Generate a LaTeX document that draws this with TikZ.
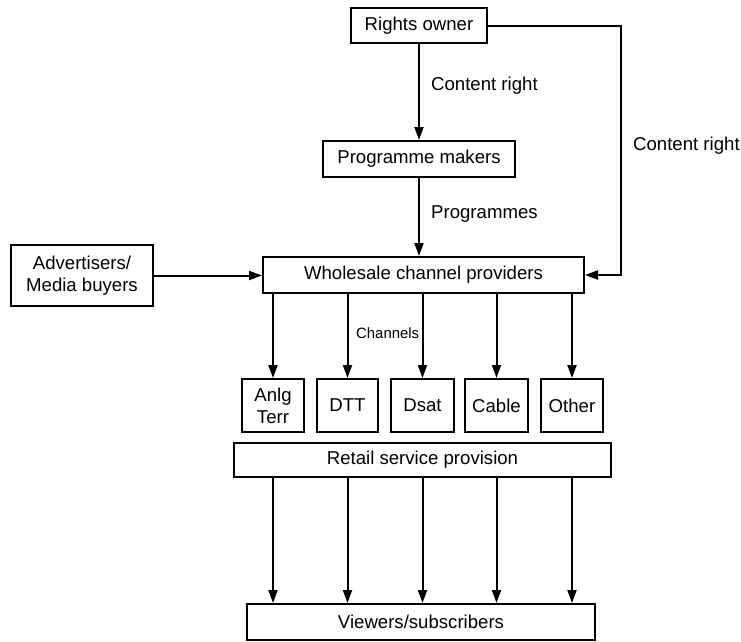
\documentclass[tikz,border=0pt]{standalone}
\usepackage{fontspec}
\setmainfont{Liberation Sans}
\usetikzlibrary{arrows.meta,positioning}

\tikzset{
    box/.style={draw, line width=2pt, inner sep=0pt, align=center,
        font=\fontsize{18.6}{22}\selectfont},
    arr/.style={-{Triangle[length=13pt,width=9pt]}, line width=2pt},
    lbl/.style={anchor=west, inner sep=0pt, font=\fontsize{18.6}{22}\selectfont},
}

\begin{document}
\begin{tikzpicture}[x=1pt,y=-1pt]
    \useasboundingbox (0,0) rectangle (741,641);

    % Top of the chain
    \node[box, minimum width=136pt, minimum height=35pt] (rights) at (419,25.5) {Rights owner};
    \node[box, minimum width=192pt, minimum height=36pt] (makers) at (419,159) {Programme makers};
    \node[box, minimum width=321pt, minimum height=36pt] (wholesale) at (423.5,275) {Wholesale channel providers};
    \node[box, minimum width=142pt, minimum height=61pt] (adv) at (82,275.5) {Advertisers/\\Media buyers};

    % Delivery platforms
    \node[box, minimum width=62pt, minimum height=53pt] (anlg) at (273,405.5) {Anlg\\Terr};
    \node[box, minimum width=61pt, minimum height=53pt] (dtt) at (347.5,405.5) {DTT};
    \node[box, minimum width=63pt, minimum height=53pt] (dsat) at (422.5,405.5) {Dsat};
    \node[box, minimum width=63pt, minimum height=53pt] (cable) at (496.5,405.5) {Cable};
    \node[box, minimum width=62pt, minimum height=53pt] (other) at (572,405.5) {Other};

    % Retail and viewers
    \node[box, minimum width=377pt, minimum height=34pt] (retail) at (422.5,460) {Retail service provision};
    \node[box, minimum width=348pt, minimum height=36pt] (viewers) at (421,622) {Viewers/subscribers};

    % Rights and programmes
    \draw[arr] (rights) -- (makers);
    \draw[arr] (makers) -- (makers |- wholesale.north);
    \node[lbl] (cr1) at (431,86) {Content right};
    \node[lbl] (prog) at (431,214) {Programmes};

    \coordinate (turn) at (621,25.5);
    \draw[arr] (rights.east) -- (turn) |- (wholesale.east);
    \node[lbl] (cr2) at (633,146) {Content right};

    \draw[arr] (adv.east) -- (adv.east -| wholesale.west);

    % Channels to platforms, retail to viewers
    \foreach \ch in {anlg,dtt,dsat,cable,other}{
        \draw[arr] (\ch.north |- wholesale.south) -- (\ch.north);
        \draw[arr] (\ch |- retail.south) -- (\ch |- viewers.north);
    }
    \node[lbl, font=\fontsize{14.9}{18}\selectfont] (chan) at (356,333) {Channels};
\end{tikzpicture}
\end{document}
